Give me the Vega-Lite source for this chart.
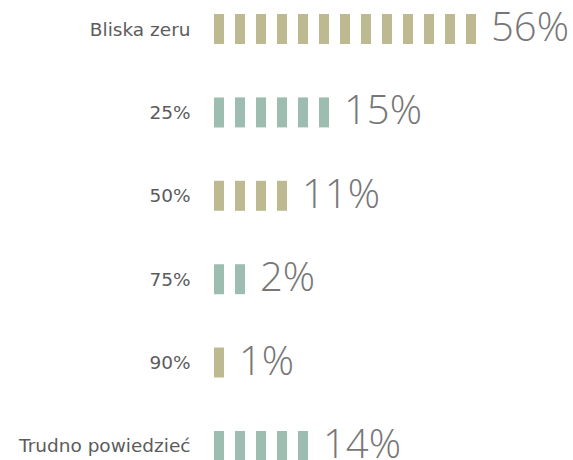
{
  "$schema": "https://vega.github.io/schema/vega-lite/v6.json",
  "width": 359,
  "height": 445,
  "autosize": {"type": "none"},
  "padding": {"left": 214, "top": 15, "right": 0, "bottom": 0},
  "background": "white",
  "config": {"view": {"stroke": null}},
  "datasets": {
    "icons": [
      {"kat": "Bliska zeru", "i": 1, "grp": "a"}, {"kat": "Bliska zeru", "i": 2, "grp": "a"}, {"kat": "Bliska zeru", "i": 3, "grp": "a"}, {"kat": "Bliska zeru", "i": 4, "grp": "a"}, {"kat": "Bliska zeru", "i": 5, "grp": "a"}, {"kat": "Bliska zeru", "i": 6, "grp": "a"}, {"kat": "Bliska zeru", "i": 7, "grp": "a"}, {"kat": "Bliska zeru", "i": 8, "grp": "a"}, {"kat": "Bliska zeru", "i": 9, "grp": "a"}, {"kat": "Bliska zeru", "i": 10, "grp": "a"}, {"kat": "Bliska zeru", "i": 11, "grp": "a"}, {"kat": "Bliska zeru", "i": 12, "grp": "a"}, {"kat": "Bliska zeru", "i": 13, "grp": "a"},
      {"kat": "25%", "i": 1, "grp": "b"}, {"kat": "25%", "i": 2, "grp": "b"}, {"kat": "25%", "i": 3, "grp": "b"}, {"kat": "25%", "i": 4, "grp": "b"}, {"kat": "25%", "i": 5, "grp": "b"}, {"kat": "25%", "i": 6, "grp": "b"},
      {"kat": "50%", "i": 1, "grp": "a"}, {"kat": "50%", "i": 2, "grp": "a"}, {"kat": "50%", "i": 3, "grp": "a"}, {"kat": "50%", "i": 4, "grp": "a"},
      {"kat": "75%", "i": 1, "grp": "b"}, {"kat": "75%", "i": 2, "grp": "b"},
      {"kat": "90%", "i": 1, "grp": "a"},
      {"kat": "Trudno powiedzieć", "i": 1, "grp": "b"}, {"kat": "Trudno powiedzieć", "i": 2, "grp": "b"}, {"kat": "Trudno powiedzieć", "i": 3, "grp": "b"}, {"kat": "Trudno powiedzieć", "i": 4, "grp": "b"}, {"kat": "Trudno powiedzieć", "i": 5, "grp": "b"}
    ],
    "labels": [
      {"kat": "Bliska zeru", "n": 13, "pct": "56%"},
      {"kat": "25%", "n": 6, "pct": "15%"},
      {"kat": "50%", "n": 4, "pct": "11%"},
      {"kat": "75%", "n": 2, "pct": "2%"},
      {"kat": "90%", "n": 1, "pct": "1%"},
      {"kat": "Trudno powiedzieć", "n": 5, "pct": "14%"}
    ]
  },
  "encoding": {
    "y": {
      "field": "kat", "type": "nominal",
      "sort": ["Bliska zeru", "25%", "50%", "75%", "90%", "Trudno powiedzieć"],
      "scale": {"type": "point", "padding": 0.168},
      "axis": {"title": null, "domain": false, "ticks": false, "labelPadding": 24, "labelFont": "DejaVu Sans", "labelFontWeight": "normal", "labelFontSize": 18.5, "labelColor": "#5c5c5c", "labelAlign": "right", "labelBaseline": "middle", "labelLimit": 0}
    }
  },
  "layer": [
    {
      "data": {"name": "icons"},
      "mark": {"type": "rect", "width": 10, "height": 30},
      "encoding": {
        "x": {"field": "i", "type": "quantitative", "scale": {"domain": [0.762, 17.857], "nice": false, "zero": false}, "axis": null},
        "color": {"field": "grp", "type": "nominal", "scale": {"domain": ["a", "b"], "range": ["#bdba91", "#9dbdb0"]}, "legend": null}
      }
    },
    {
      "data": {"name": "labels"},
      "mark": {"type": "text", "align": "left", "baseline": "middle", "dx": 20, "dy": 0, "font": "Open Sans", "fontWeight": 300, "fontSize": 40, "color": "#777777"},
      "encoding": {
        "x": {"field": "n", "type": "quantitative"},
        "text": {"field": "pct"}
      }
    }
  ]
}
